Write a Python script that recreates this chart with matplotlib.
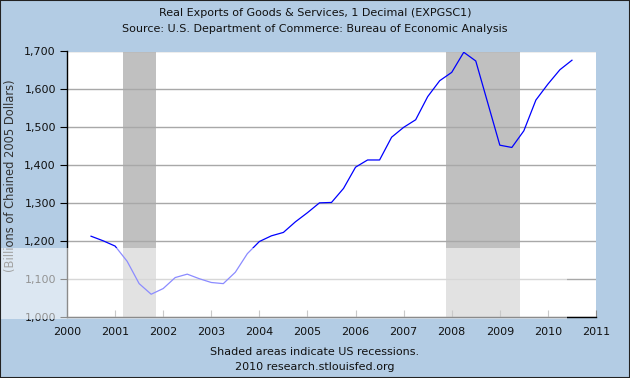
import matplotlib.pyplot as plt
from matplotlib.patches import Rectangle
from matplotlib.ticker import FuncFormatter

# quarterly, 2000Q3 .. 2010Q3 (plotted at start of quarter)
start_year = 2000.5
exports = [1213, 1201, 1187, 1147, 1088, 1060, 1075, 1104, 1113, 1101,
           1091, 1088, 1118, 1167, 1199, 1214, 1223, 1251, 1275, 1301,
           1302, 1339, 1395, 1414, 1414, 1474, 1500, 1520, 1581, 1623,
           1645, 1698, 1675, 1564, 1453, 1447, 1491, 1572, 1614, 1652,
           1677]
recessions = [(2001.16, 2001.85), (2007.89, 2009.41)]
year_ticks = list(range(2000, 2012))
value_ticks = list(range(1000, 1800, 100))

title = 'Real Exports of Goods & Services, 1 Decimal (EXPGSC1)'
subtitle = 'Source: U.S. Department of Commerce: Bureau of Economic Analysis'
ylabel = '(Billions of Chained 2005 Dollars)'
footer = ['Shaded areas indicate US recessions.', '2010 research.stlouisfed.org']

bg = '#B3CCE4'

fig = plt.figure(figsize=(6.3, 3.78), dpi=100, facecolor=bg)
ax = fig.add_axes([67 / 630, 1 - 317 / 378, 529 / 630, 265.5 / 378])
ax.set_facecolor('white')

years = [start_year + 0.25 * i for i in range(len(exports))]

for a, b in recessions:
    ax.axvspan(a, b, color='#C0C0C0', lw=0, zorder=1)

ax.plot(years, exports, color='#0000FF', lw=0.9, zorder=3)

ax.set_xlim(2000, 2011)
ax.set_ylim(1000, 1700)
ax.set_xticks(year_ticks)
ax.set_yticks(value_ticks)
ax.yaxis.set_major_formatter(FuncFormatter(lambda v, p: f'{int(v):,}'))
ax.grid(axis='y', color='#A8A8A8', lw=1, zorder=2)
ax.set_axisbelow(False)

for s in ['top', 'right']:
    ax.spines[s].set_visible(False)
for s in ['left', 'bottom']:
    ax.spines[s].set_color('black')
    ax.spines[s].set_linewidth(1)
    ax.spines[s].set_zorder(4)

ax.tick_params(axis='x', direction='in', length=5, color='#888888',
               labelsize=8, pad=7, labelcolor='#111111')
ax.tick_params(axis='y', direction='out', length=5, color='black',
               labelsize=8, pad=3, labelcolor='#111111')
# the end tick at 2011 is drawn black
ax.xaxis.get_major_ticks()[-1].tick1line.set_color('black')

fig.text(0.5, 1 - 13 / 378, title, ha='center', va='center', fontsize=8, color='#111111')
fig.text(0.5, 1 - 29 / 378, subtitle, ha='center', va='center', fontsize=8, color='#111111')
fig.text(11 / 630, 1 - 176 / 378, ylabel, rotation=90, ha='center', va='center',
         fontsize=8.3, color='#333333')
fig.text(0.5, 1 - 352 / 378, footer[0], ha='center', va='center', fontsize=8, color='#111111')
fig.text(0.5, 1 - 367 / 378, footer[1], ha='center', va='center', fontsize=8, color='#111111')

# faded watermark band across the lower part of the image
fig.add_artist(Rectangle((0, 1 - 319 / 378), 567 / 630, 71 / 378, transform=fig.transFigure,
                         facecolor='white', alpha=0.55, lw=0, zorder=10))
# thin outer frame
fig.add_artist(Rectangle((0, 0), 1, 1, transform=fig.transFigure, fill=False,
                         edgecolor='#222222', lw=1.5, zorder=11))

fig.savefig('out.png', dpi=100, facecolor=bg)
